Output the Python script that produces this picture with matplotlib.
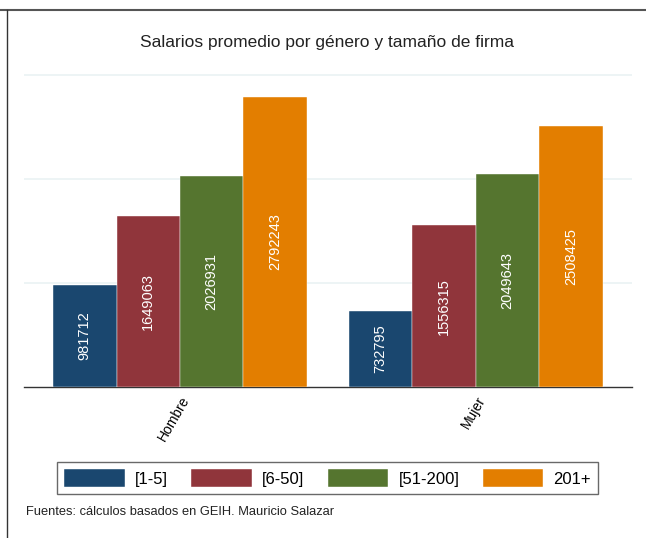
import numpy as np
import matplotlib
matplotlib.use("Agg")
import matplotlib.pyplot as plt
from matplotlib.lines import Line2D

plt.rcParams["font.family"] = ["Liberation Sans", "DejaVu Sans"]

groups = ["Hombre", "Mujer"]
sizes = ["[1-5]", "[6-50]", "[51-200]", "201+"]
salarios = {
    "[1-5]": [981712, 732795],
    "[6-50]": [1649063, 1556315],
    "[51-200]": [2026931, 2049643],
    "201+": [2792243, 2508425],
}
colors = ["#1a476f", "#90353b", "#55752f", "#e37e00"]


def main():
    fig = plt.figure(figsize=(6.46, 5.38), dpi=100)
    ax = fig.add_axes([0.0372, 0.2807, 0.941, 0.604])

    x = np.arange(len(groups))
    w = 0.2145
    offsets = (np.arange(len(sizes)) - 1.5) * w
    for i, s in enumerate(sizes):
        vals = salarios[s]
        bars = ax.bar(x + offsets[i], vals, width=w, color=colors[i],
                      edgecolor="#ffffff", linewidth=0.3, label=s, zorder=3)
        for b, v in zip(bars, vals):
            ax.text(b.get_x() + b.get_width() / 2, v / 2, str(v), rotation=90,
                    ha="center", va="center", color="white", fontsize=10.5, zorder=4)

    ax.set_xlim(-0.527, 1.527)
    ax.set_ylim(0, 3.125e6)
    ax.set_yticks([1e6, 2e6, 3e6])
    ax.set_yticklabels([])
    ax.tick_params(axis="y", length=0)
    ax.grid(axis="y", color="#eaf2f3", linewidth=1.2, zorder=0)
    for sp in ["top", "right", "left"]:
        ax.spines[sp].set_visible(False)
    ax.spines["bottom"].set_color("#333333")
    ax.spines["bottom"].set_linewidth(1.0)
    ax.set_xticks(x)
    ax.set_xticklabels(groups, rotation=60, ha="right", rotation_mode="anchor", fontsize=10)
    ax.tick_params(axis="x", length=0, pad=5)

    fig.text(0.5055, 1 - 42 / 538, "Salarios promedio por género y tamaño de firma",
             ha="center", va="center", fontsize=12.5, color="#222222")

    leg = fig.legend(loc="center", bbox_to_anchor=(0.507, 1 - 478 / 538), ncol=4,
                     fontsize=12, handlelength=3.65, handleheight=1.3,
                     handletextpad=0.6, columnspacing=1.4, fancybox=False,
                     edgecolor="#444444", borderpad=0.4)
    leg.get_frame().set_linewidth(1.0)

    fig.text(26 / 646, 1 - 512 / 538, "Fuentes: cálculos basados en GEIH. Mauricio Salazar",
             ha="left", va="center", fontsize=9.3, color="#222222")

    # marco de la imagen
    fig.add_artist(Line2D([0, 1], [1 - 9.5 / 538] * 2, color="#555555", linewidth=1.5,
                          transform=fig.transFigure))
    fig.add_artist(Line2D([6.5 / 646] * 2, [0, 1 - 9.5 / 538], color="#333333", linewidth=1.0,
                          transform=fig.transFigure))

    fig.savefig("out.png", dpi=100)


if __name__ == "__main__":
    main()
